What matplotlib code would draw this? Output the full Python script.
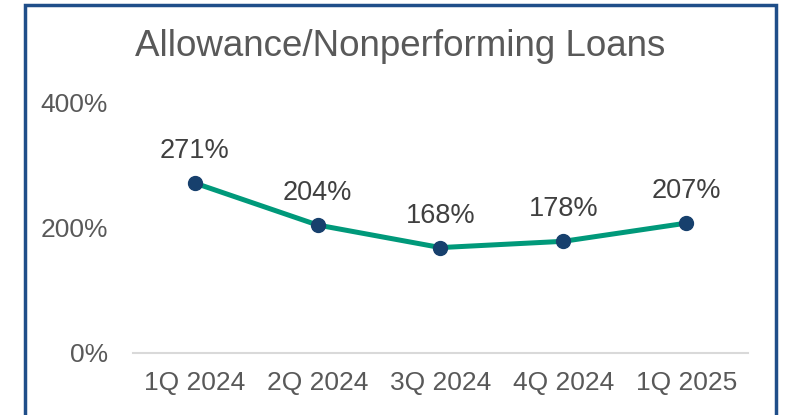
import matplotlib.pyplot as plt
from matplotlib.patches import Rectangle

# datos
trimestres = ['1Q 2024', '2Q 2024', '3Q 2024', '4Q 2024', '1Q 2025']
cobertura = [271, 204, 168, 178, 207]
ticks_y = [0, 200, 400]

gris = '#595959'
verde = '#00997A'
azul = '#17406D'

plt.rcParams['font.family'] = ['Liberation Sans', 'DejaVu Sans']

fig = plt.figure(figsize=(7.88, 4.15), dpi=100)
ax = fig.add_axes([0.1688, 0.1494, 0.7804, 0.6048])

x = list(range(len(trimestres)))
ax.plot(x, cobertura, color=verde, lw=3.6, zorder=2)
ax.plot(x, cobertura, 'o', color=azul, ms=10, zorder=3)

for xi, v in zip(x, cobertura):
    ax.annotate(f'{v}%', (xi, v), xytext=(0, 23), textcoords='offset points',
                ha='center', va='center', fontsize=19.5, color='#404040')

ax.set_xlim(-0.5, len(trimestres) - 0.5)
ax.set_ylim(0, 400)
ax.set_xticks(x)
ax.set_xticklabels(trimestres)
ax.set_yticks(ticks_y)
ax.set_yticklabels([f'{t}%' for t in ticks_y])
ax.tick_params(length=0, labelsize=19, labelcolor=gris)
ax.tick_params(axis='y', pad=18)
ax.tick_params(axis='x', pad=13)

for lado in ['top', 'right', 'left']:
    ax.spines[lado].set_visible(False)
ax.spines['bottom'].set_color('#D9D9D9')
ax.spines['bottom'].set_linewidth(1.5)

fig.text(400 / 788, 1 - 46 / 415, 'Allowance/Nonperforming Loans', ha='center', va='center',
         fontsize=26.5, color=gris)

# marco azul
marco = Rectangle((24.5 / 788, -0.05), (776 - 24.5) / 788, 1.05 - 5.5 / 415,
                  transform=fig.transFigure, fill=False, edgecolor='#1F4E89', lw=2.5)
fig.patches.append(marco)

fig.savefig('out.png', dpi=100)
